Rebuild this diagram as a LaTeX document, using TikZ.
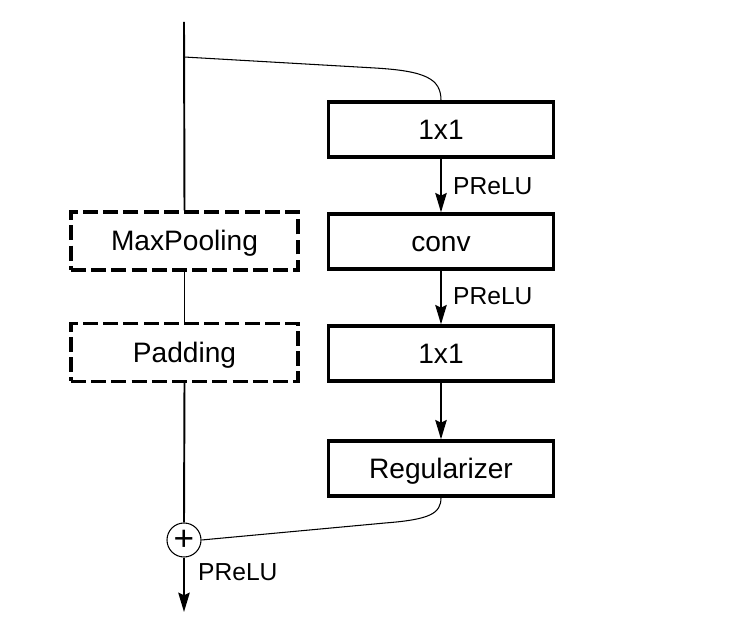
\documentclass[tikz,border=0pt]{standalone}
\usepackage{fontspec}
\setmainfont{Liberation Sans}
\usetikzlibrary{arrows.meta}
\begin{document}
\begin{tikzpicture}[
    font=\fontsize{16}{19}\selectfont,
    blockbox/.style={draw, line width=1.9pt, minimum width=4.5cm, minimum height=1.1cm, text height=0.5cm, text depth=0.1cm},
    optbox/.style={blockbox, dash pattern=on 8.5pt off 3pt, minimum width=4.54cm, minimum height=1.16cm},
    actlbl/.style={anchor=west, font=\fontsize{14}{17}\selectfont},
    flow/.style={line width=1.1pt},
    flowarr/.style={flow, -{Stealth[length=11pt,width=6.5pt,inset=1.5pt]}},
    thin/.style={line width=0.6pt}
]
            \useasboundingbox (0,0) rectangle (14.94,12.72);
            % right branch
            \node[blockbox] (redA) at (8.82,10.13) {1x1};
            \node[blockbox] (conv) at (8.82,7.89) {conv};
            \node[blockbox] (redB) at (8.82,5.65) {1x1};
            \node[blockbox] (reg) at (8.82,3.35) {Regularizer};
            % left branch
            \node[optbox] (pool) at (3.69,7.9) {MaxPooling};
            \node[optbox] (pad) at (3.69,5.67) {Padding};
            \node[draw, thin, circle, minimum size=0.68cm, inner sep=0pt, font=\fontsize{20}{20}\selectfont] (plus) at (3.68,1.92) {+};
            \coordinate (in) at (3.68,12.28);
            \coordinate (split) at (3.68,11.58);
            \coordinate (out) at (3.68,0.48);
            \coordinate (bendA) at (7.5,11.36);
            \coordinate (bendB) at (7.7,2.26);
            % connections
            \draw[flow] (in) -- (pool.north);
            \draw[flow] (pool.south) -- (pad.north);
            \draw[flow] (pad.south) -- (plus.north);
            \draw[flowarr] (plus.south) -- (out);
            \draw[thin] (split) -- (bendA) .. controls (8.5,11.3) and (8.82,11.15) .. (redA.north);
            \draw[flowarr] (redA.south) -- (conv.north);
            \draw[flowarr] (conv.south) -- (redB.north);
            \draw[flowarr] (redB.south) -- (reg.north);
            \draw[thin] (reg.south) .. controls (8.82,2.45) and (8.6,2.33) .. (bendB) -- (plus.east);
            % labels
            \draw (8.94,9.0) node[actlbl]{PReLU};
            \draw (8.94,6.8) node[actlbl]{PReLU};
            \draw (3.84,1.28) node[actlbl]{PReLU};
        \end{tikzpicture}
\end{document}
